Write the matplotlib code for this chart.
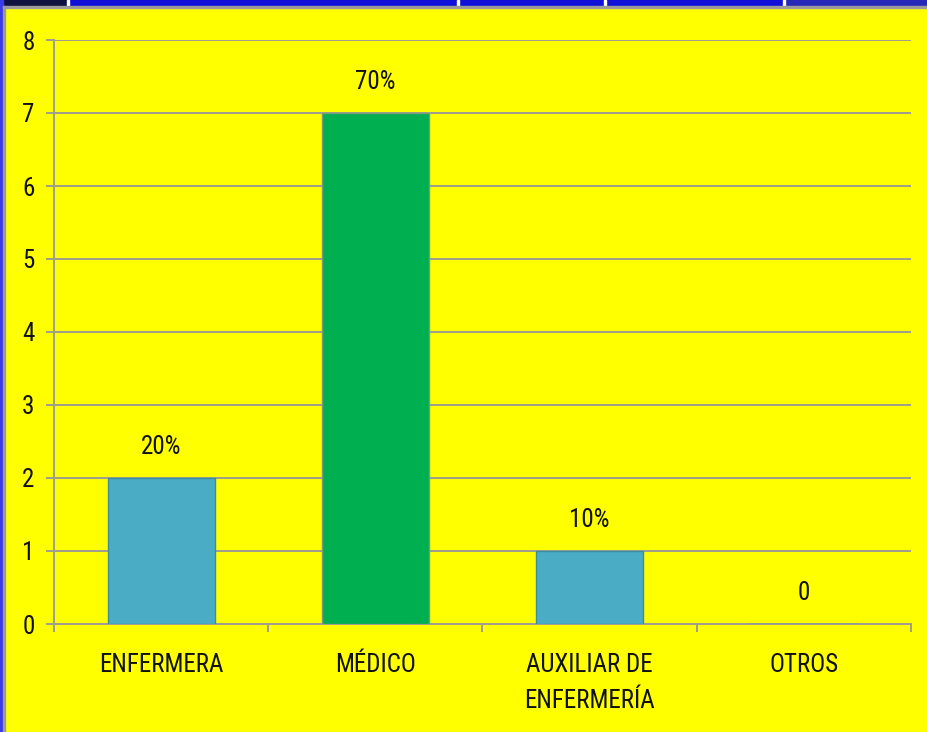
import matplotlib.pyplot as plt
from matplotlib.patches import Rectangle
from matplotlib import font_manager

categories = ['ENFERMERA', 'MÉDICO', 'AUXILIAR DE\nENFERMERÍA', 'OTROS']
values = [2, 7, 1, 0]
value_labels = ['20%', '70%', '10%', '0']
bar_colors = ['#4BACC6', '#00B050', '#4BACC6', '#4BACC6']
edge_colors = ['#3E8CA0', '#7A9A80', '#3E8CA0', '#3E8CA0']

# prefer a narrow face if one is installed
names = {f.name for f in font_manager.fontManager.ttflist}
candidates = ['Liberation Sans Narrow', 'Roboto Condensed', 'DejaVu Sans Condensed',
              'Open Sans Condensed', 'Noto Sans Condensed', 'Roboto']
family = next((c for c in candidates if c in names), 'Liberation Sans')
plt.rcParams['font.family'] = [family, 'DejaVu Sans']

W, H = 928, 732
GRID = '#9E9E8E'
TXT = 18
fig = plt.figure(figsize=(W / 100, H / 100), dpi=100)
fig.patch.set_facecolor('#FFFF00')

# window frame: blue strip on top and left, grey rim round the yellow panel
def px_rect(x, y, w, h, color):
    fig.patches.append(Rectangle((x / W, 1 - (y + h) / H), w / W, h / H,
                                 transform=fig.transFigure, color=color, zorder=-5))

px_rect(0, 0, 928, 7, '#1010D8')
px_rect(0, 0, 68, 7, '#101040')
px_rect(784, 0, 144, 7, '#2828B8')
for x in [68, 458, 605, 784]:
    px_rect(x - 1, 0, 2, 6, 'white')
px_rect(0, 0, 3, 732, '#3A3AE8')
px_rect(3, 6, 925, 2, '#9A9A9A')
px_rect(3, 6, 2, 726, '#9A9A9A')

ax = fig.add_axes([54 / W, 1 - 624 / H, (911 - 54) / W, (624 - 40) / H])
ax.set_facecolor('#FFFF00')

x = range(len(categories))
ax.bar(x, values, width=0.5, color=bar_colors, edgecolor=edge_colors, linewidth=1.0, zorder=3)
for i, (v, lab) in enumerate(zip(values, value_labels)):
    ax.annotate(lab, (i, v), xytext=(0, 22.5), textcoords='offset points',
                ha='center', va='center', fontsize=TXT, color='#111111')

ax.set_xlim(-0.5, len(categories) - 0.5)
ax.set_ylim(0, 8)
ax.set_yticks(range(0, 9))
ax.yaxis.grid(True, color=GRID, linewidth=1.4, zorder=0)
ax.set_axisbelow(True)

ax.set_xticks([i - 0.5 for i in range(len(categories) + 1)])
ax.set_xticklabels([])
ax.set_xticks(list(x), minor=True)
ax.set_xticklabels(categories, minor=True, fontsize=TXT, color='#111111', linespacing=1.6)
ax.tick_params(axis='x', which='minor', length=0, pad=21)
ax.tick_params(axis='x', which='major', length=6, width=1.4, color=GRID, direction='out')
ax.tick_params(axis='y', length=6, width=1.4, color=GRID, labelsize=TXT,
               labelcolor='#111111', pad=8)
for lab in ax.get_xticklabels(minor=True):
    lab.set_verticalalignment('top')

for side in ['top', 'right']:
    ax.spines[side].set_visible(False)
for side in ['left', 'bottom']:
    ax.spines[side].set_color(GRID)
    ax.spines[side].set_linewidth(1.4)

fig.savefig('out.png', dpi=100, facecolor=fig.get_facecolor())
